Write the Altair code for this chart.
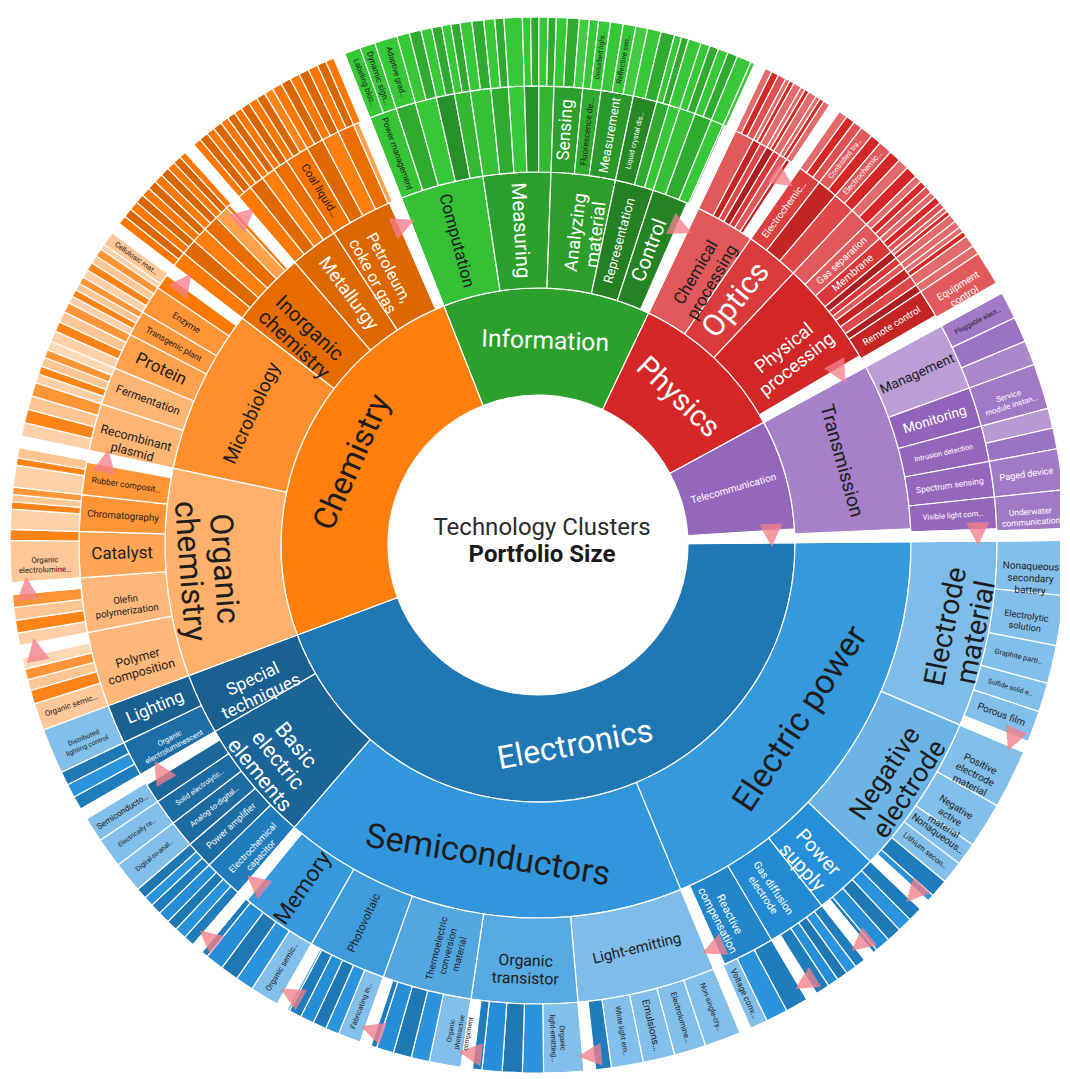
import math
import colorsys
import altair as alt
import pandas as pd

# ---------------- data (angular portfolio sizes) ----------------
CLUSTERS = ["Information", "Physics", "Telecommunication", "Electronics", "Chemistry"]

INFORMATION = [
    ("Computation", [
        ("Power management", [("Labeling bloc…", 1.8), ("Dynamic sign…", 1.7)]),
        ("", [("Adaptive grad…", 2.5)]),
        ("", [1.4, 1.3]),
        ("", [1.2, 1.1]),
        ("", [1.0, 1.0]),
    ]),
    ("Measuring", [
        ("", [1.3, 1.3]),
        ("", [1.2, 1.0]),
        ("", [2.0]),
        ("", [0.9, 0.9]),
        ("", [1.0, 0.9]),
    ]),
    ("Analyzing\nmaterial", [
        ("Sensing", [1.2, 1.3, 1.1]),
        ("Fluorescence de…", [1.0, ("Disturbed light…", 1.3)]),
        ("Measurement", [1.4, ("Reflective sen…", 1.4), 1.3]),
    ]),
    ("Representation", [
        ("Liquid crystal dis…", [1.5, 1.5]),
        ("", [0.8, 0.8]),
        ("", [1.4]),
    ]),
    ("Control", [
        ("", [1.0, 1.0]),
        ("", [1.1, 1.1]),
        ("", [1.6]),
        ("", [0.9, 0.8]),
    ]),
]

PHYSICS = [
    ("Chemical\nprocessing", [
        ("", [0.8, 0.8, 0.9]),
        ("", [0.5, 0.5]),
        ("", [0.9]),
        ("", [0.5, 0.5]),
        ("", [0.9]),
        ("", [0.5, 0.5]),
        ("", [1.0]),
        ("", [0.5, 0.5]),
    ]),
    ("Optics", [
        ("Electrochemic…", [1.0, 1.0, 1.0]),
        ("", [("Controlled tra…", 1.4), 1.2]),
        ("", [("Electrochemic…", 1.5), 1.3]),
    ]),
    ("Physical\nprocessing", [
        ("", [1.2, 1.3]),
        ("Gas separation", [0.8, 0.8, 0.8]),
        ("Membrane", [0.7, 0.8, 0.7]),
        ("", [0.5, 0.5]),
        ("", [0.9]),
        ("", [0.8]),
        ("", [0.6, 0.6]),
        ("", [1.3]),
        ("", [1.0]),
        ("Remote control", [("Equipment\ncontrol", 5.0)]),
    ]),
]

TELECOMMUNICATION = [
    ("Transmission", [
        ("Management", [("Pluggable elect…", 3.0), 2.8, 2.7]),
        ("Monitoring", [("Service\nmodule instan…", 5.0)]),
        ("Intrusion detection", [2.2, 2.3]),
        ("Spectrum sensing", [("Paged device", 4.5)]),
        ("Visible light com…", [("Underwater\ncommunication", 5.5)]),
    ]),
]

ELECTRONICS = [
    ("Electric power", [
        ("Electrode\nmaterial", [("Nonaqueous\nsecondary\nbattery", 6.0), ("Electrolytic\nsolution", 5.5),
                                 ("Graphite parti…", 4.2), ("Sulfide solid e…", 3.2), ("Porous film", 4.7)]),
        ("Negative\nelectrode", [("Positive\nelectrode\nmaterial", 6.5), ("Negative\nactive\nmaterial", 5.0),
                                 ("Nonaqueous…", 2.5), ("Lithium secon…", 2.5), 2.0, 2.0]),
        ("Power\nsupply", [1.6, 1.6, 1.6, 1.7, 1.7]),
        ("Gas diffusion\nelectrode", [1.2, 1.2, 1.2, 1.2, 2.8]),
        ("Reactive\ncompensation", [2.5, 2.4, ("Voltage conv…", 3.2)]),
    ]),
    ("Semiconductors", [
        ("Light-emitting", [("Non-single-cry…", 4.0), ("Electrolumine…", 3.5), ("Emulsions…", 3.5),
                            ("White light em…", 3.5), 3.0]),
        ("Organic\ntransistor", [("Organic\nlight-emitting…", 4.4), 2.3, 2.2, 2.2, 2.3]),
        ("Thermoelectric\nconversion\nmaterial", [("Organic\nphotoactive\ncomponent", 3.5), 2.0, 2.0, 1.9, 1.9]),
        ("Photovoltaic", [("Fabricating in…", 2.5), 1.5, 1.5, 1.5, 1.4, 1.5]),
        ("Memory", [("Organic semic…", 3.2), 2.0, 2.0, 2.0, 2.0]),
    ]),
    ("Basic\nelectric\nelements", [
        ("Electrochemical\ncapacitor", [1.2, 1.3, 1.2, 1.3]),
        ("Power amplifier", [1.2, 1.1, 1.2]),
        ("Analog-to-digital…", [("Digital-to-anal…", 3.4)]),
        ("Solid electrolytic…", [("Electrically re…", 3.3)]),
        ("", [("Semiconducto…", 4.0)]),
    ]),
    ("Special\ntechniques", [
        ("Organic\nelectroluminescent", [1.5, 1.5, 1.5]),
        ("Lighting", [("Distributed\nlighting control", 5.0)]),
    ]),
]

CHEMISTRY = [
    ("Organic\nchemistry", [
        ("Polymer\ncomposition", [("Organic semic…", 3.0), 1.5, 1.2, 1.2, 1.3, 1.3]),
        ("Olefin\npolymerization", [1.4, 1.4, 1.4, 1.4, 1.3]),
        ("Catalyst", [("Organic\nelectrolumine…", 4.6), 1.2]),
        ("Chromatography", [2.2, 0.8, 0.8, 0.8]),
        ("Rubber composit…", [2.4, 0.8, 1.2, 1.2]),
    ]),
    ("Microbiology", [
        ("Recombinant\nplasmid", [1.5, 1.5, 1.5, 1.5]),
        ("Fermentation", [1.0, 0.9, 1.0, 0.9, 1.0]),
        ("Protein", [1.2, 1.1, 1.2, 1.1]),
        ("Transgenic plant", [0.8, 0.8, 0.8, 0.8]),
        ("Enzyme", [0.9, 0.9, 0.9, 0.9]),
        ("", [0.6, ("Cellulosic mat…", 2.8)]),
    ]),
    ("Inorganic\nchemistry", [
        ("", [1.0, 1.0]), ("", [1.0, 1.0]), ("", [1.0, 1.0]),
        ("", [1.0, 1.0]), ("", [0.9, 0.9]), ("", [1.0, 1.0]),
    ]),
    ("Metallurgy", [
        ("", [0.9, 1.0]), ("", [0.9, 1.0]), ("", [0.9, 0.9]), ("", [0.9, 1.0]),
    ]),
    ("Petroleum,\ncoke or gas", [
        ("Coal liquid…", [1.0, 1.0, 1.0]), ("", [1.1, 1.1]), ("", [1.1, 1.1]),
        ("", [1.1, 1.0]), ("", [1.1, 1.1]),
    ]),
]

CLUSTER_TREES = [INFORMATION, PHYSICS, TELECOMMUNICATION, ELECTRONICS, CHEMISTRY]

# groups that are pulled apart (node, ring where the separation starts)
EXPLODE = [
    ("Telecommunication", 1), ("Control", 2), ("Physical\nprocessing", 2),
    ("Petroleum,\ncoke or gas", 2), ("Chemical\nprocessing", 3), ("Transmission", 3),
    ("Electric power", 3), ("Semiconductors", 3), ("Basic\nelectric\nelements", 3),
    ("Electrode\nmaterial", 4), ("Negative\nelectrode", 4), ("Power\nsupply", 4),
    ("Gas diffusion\nelectrode", 4), ("Light-emitting", 4), ("Organic\ntransistor", 4),
    ("Thermoelectric\nconversion\nmaterial", 4), ("Photovoltaic", 4), ("Memory", 4),
    ("Organic\nchemistry", 3), ("Microbiology", 3), ("Inorganic\nchemistry", 3),
    ("Olefin\npolymerization", 4), ("Polymer\ncomposition", 4),
]

# ---------------- style ----------------
START_DEG = 338.5
RING_R = [150, 257, 373, 459, 528]
W, H = 1044, 1058
GAP_PX = 11
CW, LH = 0.53, 1.2
MAX_FS = {1: 32, 2: 34, 3: 36, 4: 10}
FS_CAP = {"Enzyme": 9, "Transgenic plant": 9, "Protein": 17, "Fermentation": 13,
          "Petroleum,\ncoke or gas": 16, "Metallurgy": 20}
BASE = {"Information": "#2ca02c", "Physics": "#d62728", "Telecommunication": "#9467bd",
        "Electronics": "#1f77b4", "Chemistry": "#ff7f0e"}
TONE = {
    "Computation": 0.08, "Measuring": 0.0, "Analyzing\nmaterial": -0.005, "Representation": -0.08, "Control": -0.07,
    "Chemical\nprocessing": 0.12, "Optics": 0.05, "Physical\nprocessing": -0.01,
    "Transmission": 0.07,
    "Electric power": 0.127, "Semiconductors": 0.116, "Basic\nelectric\nelements": -0.065, "Special\ntechniques": -0.083,
    "Organic\nchemistry": 0.18, "Microbiology": 0.057, "Inorganic\nchemistry": -0.074, "Metallurgy": -0.092,
    "Petroleum,\ncoke or gas": -0.096,
    "Power management": 0.09, "Sensing": 0.0, "Fluorescence de…": 0.03, "Measurement": -0.02,
    "Liquid crystal dis…": -0.06,
    "Electrochemic…": 0.06, "Gas separation": 0.12, "Membrane": 0.04, "Remote control": -0.04,
    "Management": 0.155, "Monitoring": -0.01, "Intrusion detection": 0.0, "Spectrum sensing": 0.0,
    "Visible light com…": 0.0,
    "Electrode\nmaterial": 0.29, "Negative\nelectrode": 0.25, "Power\nsupply": 0.084,
    "Gas diffusion\nelectrode": 0.07, "Reactive\ncompensation": 0.05,
    "Light-emitting": 0.29, "Organic\ntransistor": 0.2, "Thermoelectric\nconversion\nmaterial": 0.19,
    "Photovoltaic": 0.145, "Memory": 0.127,
    "Electrochemical\ncapacitor": 0.02, "Power amplifier": -0.04, "Analog-to-digital…": -0.04,
    "Solid electrolytic…": -0.04, "Organic\nelectroluminescent": -0.03, "Lighting": -0.08,
    "Polymer\ncomposition": 0.21, "Olefin\npolymerization": 0.21, "Catalyst": 0.14, "Chromatography": 0.08,
    "Rubber composit…": 0.08, "Recombinant\nplasmid": 0.2, "Fermentation": 0.2, "Protein": 0.12,
    "Transgenic plant": 0.09, "Enzyme": 0.08, "Coal liquid…": -0.05,
}
CYCLE = {
    ("Information", 3): [0.08, 0.03, 0.1, -0.04, 0.06, -0.08],
    ("Information", 4): [0.1, 0.03, 0.13, -0.05, 0.07, -0.02],
    ("Physics", 3): [0.12, -0.04, 0.08, -0.1, 0.04],
    ("Physics", 4): [0.16, 0.0, 0.1, -0.08, 0.22, -0.03],
    ("Telecommunication", 3): [0.0],
    ("Telecommunication", 4): [0.14, 0.03, 0.09, -0.03],
    ("Electronics", 3): [-0.06],
    ("Electronics", 4): [0.02, 0.1, 0.0, 0.08],
    ("Chemistry", 3): [-0.02, -0.09, 0.0, -0.07, 0.12],
    ("Chemistry", 4): [0.3, 0.02, 0.26, 0.08, 0.33, -0.02],
}
DARK_L2 = {"Inorganic\nchemistry", "Metallurgy", "Petroleum,\ncoke or gas"}
DARK_L4 = [-0.03, -0.1, 0.02, -0.07]
LABELED_L4 = {"Information": 0.1, "Physics": 0.12, "Telecommunication": 0.05, "Electronics": 0.3, "Chemistry": 0.27}
ORIENT = {"Basic\nelectric\nelements": "t"}
DARK_TXT, LIGHT_TXT = "#1d1d1d", "#ffffff"
TEXT_OVERRIDE = {"Information": LIGHT_TXT, "Measuring": LIGHT_TXT, "Electric power": DARK_TXT,
                 "Semiconductors": DARK_TXT, "Transmission": DARK_TXT, "Computation": DARK_TXT,
                 "Chemical\nprocessing": DARK_TXT, "Management": DARK_TXT, "Pluggable elect…": DARK_TXT}
TRI_COLOR = "#f4808a"


def shade(hexc, dl):
    r, g, b = (int(hexc[i:i + 2], 16) / 255 for i in (1, 3, 5))
    h, l, s = colorsys.rgb_to_hls(r, g, b)
    l = min(0.95, max(0.05, l + dl))
    r, g, b = colorsys.hls_to_rgb(h, l, s)
    return "#%02x%02x%02x" % (round(r * 255), round(g * 255), round(b * 255))


def lum(hexc):
    def lin(c):
        return c / 12.92 if c <= 0.04045 else ((c + 0.055) / 1.055) ** 2.4
    r, g, b = (int(hexc[i:i + 2], 16) / 255 for i in (1, 3, 5))
    return 0.2126 * lin(r) + 0.7152 * lin(g) + 0.0722 * lin(b)


def size(node, level):
    if level == 4:
        return node[1] if isinstance(node, tuple) else node
    return sum(size(k, level + 1) for k in node[1])


arcs = []
nodes = {}


def place(node, level, cluster, l2name, idx, start):
    if level == 4:
        lab, v = node if isinstance(node, tuple) else ("", node)
        kids = None
    else:
        lab, kids = node
        v = size(node, level)
    if level == 2:
        l2name = lab
    if level == 1:
        color = BASE[cluster]
    elif level <= 3 and lab in TONE:
        color = shade(BASE[cluster], TONE[lab])
    elif level == 4 and lab:
        color = shade(BASE[cluster], LABELED_L4[cluster])
    elif level == 4 and l2name in DARK_L2:
        color = shade(BASE[cluster], DARK_L4[idx % len(DARK_L4)])
    else:
        cyc = CYCLE.get((cluster, level), [0.1])
        color = shade(BASE[cluster], cyc[idx % len(cyc)])
    arcs.append(dict(level=level, r_in=level - 1, r_out=level, t0=start, t1=start + v,
                     fill=color, label=lab, cluster=cluster))
    if level <= 3 and lab:
        nodes[lab] = (level, start, start + v)
    if kids:
        p = start
        for i, k in enumerate(kids):
            p = place(k, level + 1, cluster, l2name, i, p)
    return start + v


pos = 0.0
for cname, tree in zip(CLUSTERS, CLUSTER_TREES):
    pos = place((cname, tree), 1, cname, "", 0, pos)
TOTAL = pos


def clock(t):
    return (START_DEG + t * 360.0 / TOTAL) % 360


def gap_units(ring):
    rm = (RING_R[ring - 1] + RING_R[ring]) / 2
    return math.degrees(GAP_PX / rm) * TOTAL / 360.0


# gaps (one wedge per ring so the white strip keeps a near-constant width) and triangles
gaps, tris, gap_end = [], [], {}
for name, ring in EXPLODE:
    lvl, t0, t1 = nodes[name]
    for k in range(ring, 5):
        g = gap_units(k)
        gaps.append(dict(t0=t1 - g, t1=t1, r_in=k - 1, r_out=(4.25 if k == 4 else k)))
        key = (k, round(t1, 6))
        gap_end[key] = max(gap_end.get(key, 0.0), g)
    g = gap_units(ring)
    tm = t1 - g / 2
    tris.append(dict(tm=tm, rr=ring - 0.22, rot=(clock(tm) + 90) % 360, glyph="▲"))

# labels
labels = []
for a in arcs:
    lab = a["label"]
    if not lab:
        continue
    lvl = a["level"]
    t0 = a["t0"]
    t1 = a["t1"] - gap_end.get((lvl, round(a["t1"], 6)), 0.0)
    lines = lab.split("\n")
    nch, nl = max(len(s) for s in lines), len(lines)
    r_in, r_out = RING_R[lvl - 1], RING_R[lvl]
    rm = (r_in + r_out) / 2
    span = math.radians((t1 - t0) * 360.0 / TOTAL) * rm
    thick = r_out - r_in
    fs_t = min(span * 0.86 / (CW * nch), thick * 0.8 / (LH * nl))
    fs_r = min(thick * 0.84 / (CW * nch), span * 0.8 / (LH * nl))
    orient = ORIENT.get(lab) or ("t" if fs_t >= fs_r else "r")
    fs = min(fs_t if orient == "t" else fs_r, MAX_FS[lvl], FS_CAP.get(lab, 99))
    if fs < 5.5:
        continue
    tm = (t0 + t1) / 2
    th = clock(tm)
    if orient == "t":
        rot = th if (th < 90 or th > 270) else th - 180
    else:
        rot = th - 90 if th < 180 else th - 270
    tc = TEXT_OVERRIDE.get(lab, LIGHT_TXT if lum(a["fill"]) < 0.262 else DARK_TXT)
    labels.append(dict(label=lab, tm=tm, rr=lvl - 0.5, rot=rot % 360, fs=round(fs, 1), tc=tc))

arc_df = pd.DataFrame(arcs)
gap_df = pd.DataFrame(gaps)
tri_df = pd.DataFrame(tris)
lab_df = pd.DataFrame(labels)

start_rad = math.radians(START_DEG)
theta_scale = alt.Scale(domain=[0, TOTAL], range=[start_rad, start_rad + 2 * math.pi])
radius_scale = alt.Scale(type="linear", domain=[0, 1, 2, 3, 4], range=RING_R, zero=False, nice=False)

arc_layer = alt.Chart(arc_df).mark_arc(stroke="white", strokeWidth=1.2).encode(
    theta=alt.Theta("t0:Q", scale=theta_scale, stack=False),
    theta2=alt.Theta2("t1"),
    radius=alt.Radius("r_in:Q", scale=radius_scale),
    radius2=alt.Radius2("r_out"),
    fill=alt.Fill("fill:N", scale=None),
)

gap_layer = alt.Chart(gap_df).mark_arc(fill="white", stroke="white", strokeWidth=1).encode(
    theta=alt.Theta("t0:Q", scale=theta_scale, stack=False),
    theta2=alt.Theta2("t1"),
    radius=alt.Radius("r_in:Q", scale=radius_scale),
    radius2=alt.Radius2("r_out"),
)

tri_layer = alt.Chart(tri_df).mark_text(font="DejaVu Sans", fontSize=30, color=TRI_COLOR, opacity=0.78,
                                        align="center", baseline="middle").encode(
    theta=alt.Theta("tm:Q", scale=theta_scale, stack=False),
    radius=alt.Radius("rr:Q", scale=radius_scale),
    angle=alt.Angle("rot:Q", scale=None),
    text=alt.Text("glyph:N"),
)

label_layer = alt.Chart(lab_df).mark_text(font="Roboto", lineBreak="\n", align="center",
                                          baseline="middle").encode(
    theta=alt.Theta("tm:Q", scale=theta_scale, stack=False),
    radius=alt.Radius("rr:Q", scale=radius_scale),
    angle=alt.Angle("rot:Q", scale=None),
    size=alt.Size("fs:Q", scale=None),
    color=alt.Color("tc:N", scale=None),
    text=alt.Text("label:N"),
)

title_df = pd.DataFrame({"t": ["Technology Clusters"]})
sub_df = pd.DataFrame({"t": ["Portfolio Size"]})
title1 = alt.Chart(title_df).mark_text(font="Roboto", fontSize=24, color="#2b2b2b").encode(
    x=alt.value(W / 2 + 4), y=alt.value(H / 2 - 17), text="t:N")
title2 = alt.Chart(sub_df).mark_text(font="Roboto", fontSize=24, fontWeight="bold", color="#1a1a1a").encode(
    x=alt.value(W / 2 + 4), y=alt.value(H / 2 + 10), text="t:N")

chart = alt.layer(arc_layer, gap_layer, tri_layer, label_layer, title1, title2).properties(
    width=W, height=H, autosize="none",
    padding={"left": 8, "top": 8, "right": 0, "bottom": 0},
).configure_view(stroke=None)

chart.save("out.html", embed_options={"renderer": "svg", "actions": False})
